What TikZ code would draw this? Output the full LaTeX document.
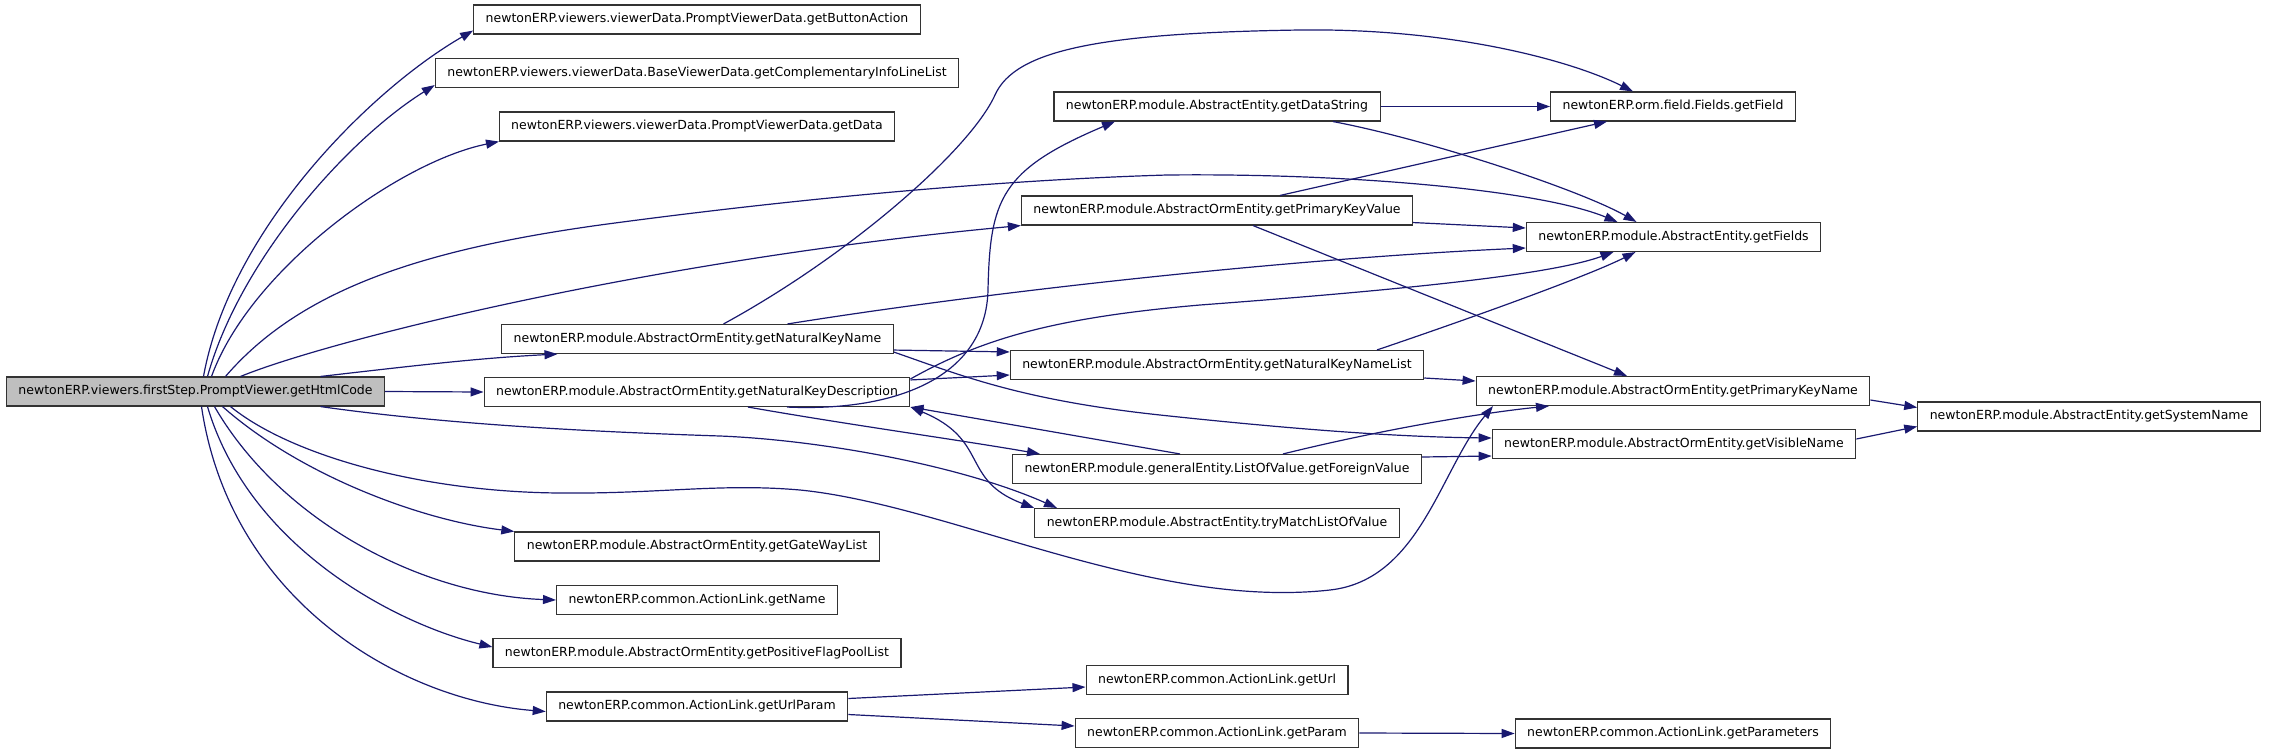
\documentclass[tikz,border=0pt]{standalone}
\usepackage{fontspec}
\setmainfont{DejaVu Sans}
\usetikzlibrary{arrows.meta}
\definecolor{Edge}{HTML}{191970}
\definecolor{Frame}{HTML}{333333}
\definecolor{Root}{HTML}{BFBFBF}

\begin{document}
\begin{tikzpicture}[x=1pt,y=-1pt,
  fn/.style={draw=Frame,line width=1.1pt,fill=white,minimum height=29pt,inner xsep=12pt,inner ysep=0pt,font=\fontsize{12.5}{14}\selectfont},
  call/.style={Edge,line width=1.2pt,-{Triangle[length=13pt,width=9pt]}},
  mutual/.style={call,{Triangle[length=13pt,width=9pt]}-{Triangle[length=13pt,width=9pt]}}]
  \useasboundingbox (0,0) rectangle (2272,753);
  % caller
  \node[fn,fill=Root] (root) at (195.5,391.5) {newtonERP.viewers.firstStep.PromptViewer.getHtmlCode};
  % second column
  \node[fn] (btnAct) at (697,19.5) {newtonERP.viewers.viewerData.PromptViewerData.getButtonAction};
  \node[fn] (complInfo) at (697,73) {newtonERP.viewers.viewerData.BaseViewerData.getComplementaryInfoLineList};
  \node[fn] (getData) at (697,126.5) {newtonERP.viewers.viewerData.PromptViewerData.getData};
  \node[fn] (natKeyName) at (697.5,339) {newtonERP.module.AbstractOrmEntity.getNaturalKeyName};
  \node[fn] (natKeyDesc) at (697,392) {newtonERP.module.AbstractOrmEntity.getNaturalKeyDescription};
  \node[fn] (gateWay) at (697,546.5) {newtonERP.module.AbstractOrmEntity.getGateWayList};
  \node[fn] (getName) at (697,600) {newtonERP.common.ActionLink.getName};
  \node[fn] (posFlag) at (697,653) {newtonERP.module.AbstractOrmEntity.getPositiveFlagPoolList};
  \node[fn] (urlParam) at (697,706.5) {newtonERP.common.ActionLink.getUrlParam};
  % third column
  \node[fn] (dataStr) at (1217,106.5) {newtonERP.module.AbstractEntity.getDataString};
  \node[fn] (pkValue) at (1217,210.5) {newtonERP.module.AbstractOrmEntity.getPrimaryKeyValue};
  \node[fn] (natKeyList) at (1217,365) {newtonERP.module.AbstractOrmEntity.getNaturalKeyNameList};
  \node[fn] (foreignVal) at (1217,469) {newtonERP.module.generalEntity.ListOfValue.getForeignValue};
  \node[fn] (tryMatch) at (1217,523) {newtonERP.module.AbstractEntity.tryMatchListOfValue};
  \node[fn] (getUrl) at (1217,680) {newtonERP.common.ActionLink.getUrl};
  \node[fn] (getParam) at (1217,733) {newtonERP.common.ActionLink.getParam};
  % fourth column
  \node[fn] (getField) at (1673,106.5) {newtonERP.orm.field.Fields.getField};
  \node[fn] (getFields) at (1673.5,237) {newtonERP.module.AbstractEntity.getFields};
  \node[fn] (pkName) at (1673,391) {newtonERP.module.AbstractOrmEntity.getPrimaryKeyName};
  \node[fn] (visName) at (1674,444) {newtonERP.module.AbstractOrmEntity.getVisibleName};
  \node[fn] (params) at (1673,733.5) {newtonERP.common.ActionLink.getParameters};
  \node[fn] (sysName) at (2089,416.5) {newtonERP.module.AbstractEntity.getSystemName};

  % calls from the caller
  \draw[call] ([xshift=8]root.north) .. controls (230,230) and (370,90) .. ([yshift=4]btnAct.south west);
  \draw[call] ([xshift=12]root.north) .. controls (240,260) and (347,140) .. ([yshift=3]complInfo.south west);
  \draw[call] ([xshift=16]root.north) .. controls (250,270) and (398,162) .. ([xshift=-198]getData.south);
  \draw[call] ([xshift=30]root.north) .. controls (300,290) and (420,250) .. (600,225)
    .. controls (800,198) and (1000,180) .. (1167,175)
    .. controls (1350,173) and (1540,190) .. ([xshift=-56]getFields.north);
  \draw[call] ([xshift=45]root.north) .. controls (330,340) and (650,260) .. (pkValue.south west);
  \draw[call] ([xshift=125]root.north) .. controls (420,365) and (480,358) .. ([xshift=-140]natKeyName.south);
  \draw[call] (root.east) -- (natKeyDesc.west);
  \draw[call] ([xshift=125]root.south) .. controls (450,425) and (600,432) .. (720,436)
    .. controls (820,440) and (960,465) .. ([xshift=-160]tryMatch.north);
  \draw[call] ([xshift=35]root.south) .. controls (290,455) and (420,492) .. (560,493)
    .. controls (660,494) and (720,483) .. (800,490)
    .. controls (950,505) and (1150,610) .. (1330,590)
    .. controls (1420,580) and (1440,470) .. ([xshift=-180]pkName.south);
  \draw[call] ([xshift=27]root.south) .. controls (300,475) and (420,520) .. (gateWay.north west);
  \draw[call] ([xshift=19]root.south) .. controls (280,520) and (420,595) .. (getName.west);
  \draw[call] ([xshift=12]root.south) .. controls (250,550) and (400,625) .. ([yshift=6]posFlag.west);
  \draw[call] ([xshift=6]root.south) .. controls (230,600) and (400,700) .. ([yshift=-5]urlParam.west);

  % second column calls
  \draw[call] ([xshift=26]natKeyName.north) .. controls (850,255) and (970,150) .. (995,95)
    .. controls (1015,50) and (1100,33) .. (1300,30)
    .. controls (1450,28) and (1570,60) .. ([xshift=-40]getField.north);
  \draw[call] ([xshift=90]natKeyName.north) .. controls (1000,290) and (1300,258) .. ([yshift=-11]getFields.west);
  \draw[call] ([yshift=4]natKeyName.south east) -- ([yshift=-2]natKeyList.north west);
  \draw[call] ([yshift=2]natKeyName.south east) .. controls (960,375) and (1020,400) .. (1160,415)
    .. controls (1300,430) and (1400,437) .. ([yshift=6]visName.west);
  \draw[call] ([xshift=90]natKeyDesc.south) .. controls (900,412) and (986,375) .. (988,290)
    .. controls (990,200) and (1000,170) .. ([xshift=-102]dataStr.south);
  \draw[call] ([yshift=-2]natKeyDesc.north east) .. controls (980,340) and (1050,318) .. (1200,305)
    .. controls (1400,290) and (1550,275) .. ([xshift=-60]getFields.south);
  \draw[call] ([yshift=-3]natKeyDesc.north east) -- ([yshift=-10]natKeyList.west);
  \draw[call] ([xshift=51]natKeyDesc.south) .. controls (850,425) and (960,440) .. ([xshift=-177]foreignVal.north);
  \draw[mutual] (natKeyDesc.south east) .. controls (990,440) and (960,480) .. (tryMatch.north west);
  \draw[call] ([yshift=8]urlParam.east) -- ([yshift=-7]getUrl.west);
  \draw[call] ([yshift=-8]urlParam.east) -- ([yshift=7]getParam.west);

  % third column calls
  \draw[call] (dataStr.east) -- (getField.west);
  \draw[call] ([xshift=116]dataStr.south) .. controls (1430,140) and (1580,190) .. ([xshift=-37]getFields.north);
  \draw[call] ([xshift=63]pkValue.north) -- ([xshift=-66]getField.south);
  \draw[call] ([yshift=3]pkValue.south east) -- ([yshift=9]getFields.west);
  \draw[call] ([xshift=36]pkValue.south) -- ([xshift=-46]pkName.north);
  \draw[call] ([xshift=160]natKeyList.north) .. controls (1480,315) and (1590,275) .. ([xshift=-38]getFields.south);
  \draw[call] ([yshift=-13]natKeyList.east) -- ([yshift=10]pkName.west);
  \draw[call] ([xshift=66]foreignVal.north) .. controls (1380,430) and (1480,413) .. ([xshift=-124]pkName.south);
  \draw[call] ([yshift=12]foreignVal.east) -- ([yshift=-12]visName.west);
  \draw[call] ([xshift=-37]foreignVal.north) -- (natKeyDesc.south east);
  \draw[call] (getParam.east) -- (params.west);

  % fourth column calls
  \draw[call] ([yshift=-9]pkName.east) -- ([yshift=9]sysName.west);
  \draw[call] ([yshift=5]visName.east) -- ([yshift=-10]sysName.west);
\end{tikzpicture}
\end{document}
